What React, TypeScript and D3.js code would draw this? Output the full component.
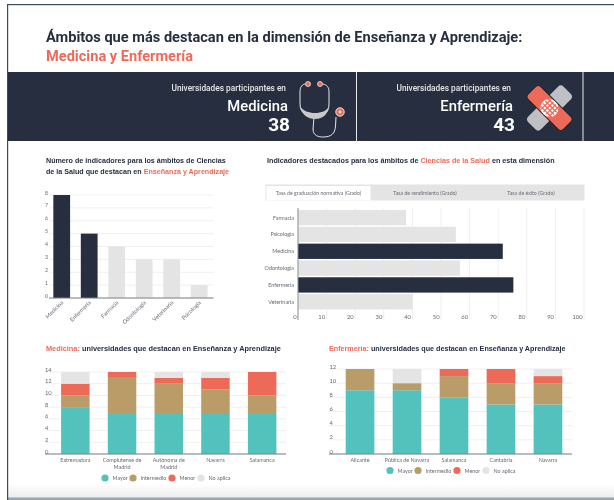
import React from "react";
import * as d3 from "d3";

const DARK = "#262f3f";
const CORAL = "#ee6a58";
const LIGHT = "#e4e4e4";
const TEAL = "#52c2bd";
const TAN = "#b99c68";
const GRID = "#efefef";
const LABEL = "#666b73";
const SANS = "Roboto, sans-serif";
const BODY = "Lato, sans-serif";
const HEAD = "'Liberation Sans', Arial, sans-serif";

const indicatorCats = ["Medicina", "Enfermería", "Farmacia", "Odontología", "Veterinaria", "Psicología"];
const indicatorVals = [8, 5, 4, 3, 3, 1];
const indicatorTicks = [0, 1, 2, 3, 4, 5, 6, 7, 8];

const rateCats = ["Farmacia", "Psicología", "Medicina", "Odontología", "Enfermería", "Veterinaria"];
const rateVals = [37.8, 55.2, 71.6, 56.6, 75.3, 40.1];
const rateTicks = [0, 10, 20, 30, 40, 50, 60, 70, 80, 90, 100];
const tabLabels = ["Tasa de graduación normativa (Grado)", "Tasa de rendimiento (Grado)", "Tasa de éxito (Grado)"];

const levelKeys = ["Mayor", "Intermedio", "Menor", "No aplica"];
const levelColors = [TEAL, TAN, CORAL, LIGHT];

const medUnis = [["Extremadura"], ["Complutense de", "Madrid"], ["Autónoma de", "Madrid"], ["Navarra"], ["Salamanca"]];
const medMayor = [8, 7, 7, 7, 7];
const medIntermedio = [2, 6, 5, 4, 3];
const medMenor = [2, 1, 1, 2, 4];
const medNoAplica = [2, 0, 1, 1, 0];
const medTicks = [0, 2, 4, 6, 8, 10, 12, 14];

const enfUnis = [["Alicante"], ["Pública de Navarra"], ["Salamanca"], ["Cantabria"], ["Navarra"]];
const enfMayor = [9, 9, 8, 7, 7];
const enfIntermedio = [3, 1, 3, 3, 3];
const enfMenor = [0, 0, 1, 2, 1];
const enfNoAplica = [0, 2, 0, 0, 1];
const enfTicks = [0, 2, 4, 6, 8, 10, 12];

function Stacked({ unis, series, ticks, left, right, top, bottom, bandRange, textX, legendXs, legendY }: any) {
  const x = d3.scaleBand<number>().domain(d3.range(unis.length)).range(bandRange).paddingInner(0.39).paddingOuter(0.345);
  const y = d3.scaleLinear().domain([0, ticks[ticks.length - 1]]).range([bottom, top]);
  const rows = unis.map((_: any, i: number) => ({ i, a: series[0][i], b: series[1][i], c: series[2][i], d: series[3][i] }));
  const stack = d3.stack<any>().keys(["a", "b", "c", "d"])(rows);
  const barW = x.bandwidth();
  return (
    <g>
      {ticks.map((t: number) => (
        <g key={t}>
          <line x1={left} x2={right} y1={y(t)} y2={y(t)} stroke={GRID} />
          <text x={textX} y={y(t) - 0.5} fontSize={5.8} fontFamily={BODY} fill={LABEL}>{t}</text>
        </g>
      ))}
      {stack.map((s, k) => s.map((d, i) => (
        <rect key={k + "-" + i} x={x(i)!} width={barW} y={y(d[1])} height={y(d[0]) - y(d[1])} fill={levelColors[k]} />
      )))}
      <line x1={left} x2={right} y1={bottom} y2={bottom} stroke="#7d8288" strokeWidth={1} />
      {unis.map((lines: string[], i: number) => lines.map((l, j) => (
        <text key={i + "-" + j} x={x(i)! + barW / 2} y={bottom + 8 + j * 7} fontSize={5.4} fontFamily={BODY} fill={LABEL} textAnchor="middle">{l}</text>
      )))}
      {levelKeys.map((k, i) => (
        <g key={k}>
          <circle cx={legendXs[i]} cy={legendY} r={3.6} fill={levelColors[i]} />
          <text x={legendXs[i] + 7.5} y={legendY + 2} fontSize={5.4} fontFamily={BODY} fill={LABEL}>{k}</text>
        </g>
      ))}
    </g>
  );
}

export default function App() {
  const barX = d3.scaleBand<string>().domain(indicatorCats).range([49.2, 211.7]).paddingInner(0.39).paddingOuter(0.15);
  const barY = d3.scaleLinear().domain([0, 8]).range([298, 195]);
  const rateX = d3.scaleLinear().domain([0, 100]).range([298, 584]);
  const rateY = d3.scaleBand<string>().domain(rateCats).range([209.3, 310.1]).paddingInner(0.09).paddingOuter(0.04);
  return (
    <svg width={614} height={500} style={{ position: "absolute", left: 0, top: 0, background: "#fff" }}>
      <defs>
        <filter id="soft" x="0" y="0" width="100%" height="100%"><feGaussianBlur stdDeviation="0.35" /></filter>
        <linearGradient id="foot" x1="0" x2="0" y1="0" y2="1">
          <stop offset="0" stopColor="#fff" /><stop offset="1" stopColor="#ececec" />
        </linearGradient>
      </defs>
      <g filter="url(#soft)">
        <rect x={7} y={484} width={607} height={14} fill="url(#foot)" />
        <rect x={7} y={497.5} width={607} height={2.5} fill="#9aa3b2" />
        <rect x={7} y={4} width={607} height={1.2} fill="#3d4a61" />
        <rect x={7} y={4} width={1.2} height={496} fill="#3d4a61" />

        <text x={46} y={42} fontSize={14.6} fontWeight={700} fontFamily={SANS} fill={DARK}>Ámbitos que más destacan en la dimensión de Enseñanza y Aprendizaje:</text>
        <text x={46} y={61} fontSize={14.6} fontWeight={700} fontFamily={SANS} fill={CORAL}>Medicina y Enfermería</text>

        <rect x={8} y={72} width={606} height={69} fill={DARK} />
        <rect x={356} y={72} width={1} height={69} fill="#e8e8e8" />
        <rect x={582.5} y={72} width={1} height={69} fill="#e8e8e8" />

        <text x={286} y={91} textAnchor="end" fontSize={8.3} fontWeight={500} fontFamily={SANS} fill="#e6e6e6">Universidades participantes en</text>
        <text x={288} y={111} textAnchor="end" fontSize={14.8} fontWeight={500} fontFamily={SANS} fill="#fff">Medicina</text>
        <text x={290} y={131} textAnchor="end" fontSize={19} fontWeight={700} fontFamily={SANS} fill="#fff">38</text>
        <text x={511} y={91} textAnchor="end" fontSize={8.3} fontWeight={500} fontFamily={SANS} fill="#e6e6e6">Universidades participantes en</text>
        <text x={513} y={111} textAnchor="end" fontSize={14.8} fontWeight={500} fontFamily={SANS} fill="#fff">Enfermería</text>
        <text x={515} y={131} textAnchor="end" fontSize={19} fontWeight={700} fontFamily={SANS} fill="#fff">43</text>

        {/* stethoscope */}
        <g fill="none" stroke="#e6e6e6" strokeWidth={1}>
          <path d="M306 84 C302 84 300 87 300 92 L300 104 C300 114 308 117 314.5 117 C322 117 329 114 329 104 L329 92 C329 87 327 85 323 84" />
          <path d="M314 117 L313 129 C313 136 319 137 323 137 C331 137 335 134 335.5 126 L336 117" />
        </g>
        <path d="M300 106 C303 111 309 113 315 113 C321 113 327 111 329 106 C328 115 322 119 315 119 C308 119 302 115 300 106Z" fill="#c9c9c9" />
        <circle cx={308} cy={84} r={2.5} fill={CORAL} stroke="#e6e6e6" strokeWidth={0.8} />
        <circle cx={320} cy={84} r={2.5} fill={CORAL} stroke="#e6e6e6" strokeWidth={0.8} />
        <circle cx={340} cy={112} r={4.2} fill={CORAL} stroke="#e6e6e6" strokeWidth={1} />
        <circle cx={340} cy={112} r={1.4} fill="#e6e6e6" />

        {/* bandages */}
        <g transform="translate(549.5 108) rotate(45)">
          <rect x={-9} y={-25} width={18} height={50} rx={4} fill="#bfc0c3" />
        </g>
        <g transform="translate(549.5 108) rotate(-45)">
          <rect x={-9} y={-25} width={18} height={50} rx={4} fill={CORAL} stroke="#1b2230" strokeWidth={1} />
          <rect x={-8.5} y={-9} width={17} height={18} rx={8} fill="#fff" />
          <path d="M-7 -5H7M-7 -1.5H7M-7 2H7M-7 5.5H7M-5 -8V8M-1.5 -8V8M2 -8V8M5.5 -8V8" stroke={CORAL} strokeWidth={1.3} />
        </g>

        {/* indicators bar chart */}
        <text x={46} y={163} fontSize={7.15} fontWeight={700} fontFamily={HEAD} fill={DARK}>Número de indicadores para los ámbitos de Ciencias</text>
        <text x={46} y={174} fontSize={7.15} fontWeight={700} fontFamily={HEAD} fill={DARK}>de la Salud que destacan en <tspan fill={CORAL}>Enseñanza y Aprendizaje</tspan></text>
        {indicatorTicks.map((t) => (
          <g key={t}>
            <line x1={49} x2={213.5} y1={barY(t)} y2={barY(t)} stroke={GRID} />
            <text x={45} y={barY(t) - 0.5} fontSize={5.2} fontFamily={BODY} fill={LABEL}>{t}</text>
          </g>
        ))}
        {indicatorCats.map((c, i) => (
          <rect key={c} x={barX(c)!} width={barX.bandwidth()} y={barY(indicatorVals[i])} height={298 - barY(indicatorVals[i])} fill={i < 2 ? DARK : LIGHT} />
        ))}
        <line x1={49} x2={213.5} y1={298} y2={298} stroke="#7d8288" />
        {indicatorCats.map((c) => (
          <text key={c} transform={`translate(${barX(c)! + barX.bandwidth() / 2 + 2} 303) rotate(-45)`} fontSize={5.6} fontFamily={BODY} fill={LABEL} textAnchor="end">{c}</text>
        ))}

        {/* rates chart */}
        <text x={267} y={163} fontSize={7.2} fontWeight={700} fontFamily={HEAD} fill={DARK}>Indicadores destacados para los ámbitos de <tspan fill={CORAL}>Ciencias de la Salud</tspan> en esta dimensión</text>
        <rect x={265.5} y={184.5} width={319} height={16} fill={LIGHT} />
        <rect x={266.5} y={186} width={104} height={14.5} fill="#fff" />
        <text x={318.5} y={194.5} textAnchor="middle" fontSize={5.2} fontFamily={BODY} fill={LABEL}>{tabLabels[0]}</text>
        <text x={425} y={194.5} textAnchor="middle" fontSize={5.2} fontFamily={BODY} fill={LABEL}>{tabLabels[1]}</text>
        <text x={531} y={194.5} textAnchor="middle" fontSize={5.2} fontFamily={BODY} fill={LABEL}>{tabLabels[2]}</text>
        {rateTicks.map((t) => (
          <g key={t}>
            <line x1={rateX(t)} x2={rateX(t)} y1={208} y2={320} stroke={GRID} />
            <text x={rateX(t) - 1.5} y={319} textAnchor="end" fontSize={5.8} fontFamily={BODY} fill={LABEL}>{t}</text>
          </g>
        ))}
        {rateCats.map((c, i) => {
          const hi = c === "Medicina" || c === "Enfermería";
          return (
            <g key={c}>
              <rect x={rateX(0)} width={rateX(rateVals[i]) - rateX(0)} y={rateY(c)!} height={rateY.bandwidth()} fill={hi ? DARK : LIGHT} />
              <text x={294} y={rateY(c)! + rateY.bandwidth() / 2 + 2} textAnchor="end" fontSize={5.4} fontFamily={BODY} fill={LABEL}>{c}</text>
            </g>
          );
        })}
        <line x1={298} x2={298} y1={208} y2={320} stroke="#8a8f94" strokeWidth={1} />

        {/* stacked */}
        <text x={46} y={351} fontSize={7.35} fontWeight={700} fontFamily={HEAD} fill={DARK}><tspan fill={CORAL}>Medicina:</tspan> universidades que destacan en Enseñanza y Aprendizaje</text>
        <Stacked unis={medUnis} series={[medMayor, medIntermedio, medMenor, medNoAplica]} ticks={medTicks}
          left={45} right={286} top={372} bottom={454} bandRange={[45, 292.5]} textX={45}
          legendXs={[105, 133, 172, 201]} legendY={478} />
        <text x={329} y={351} fontSize={7.2} fontWeight={700} fontFamily={HEAD} fill={DARK}><tspan fill={CORAL}>Enfermería:</tspan> universidades que destacan en Enseñanza y Aprendizaje</text>
        <Stacked unis={enfUnis} series={[enfMayor, enfIntermedio, enfMenor, enfNoAplica]} ticks={enfTicks}
          left={329} right={572} top={369} bottom={454} bandRange={[329.5, 578.5]} textX={329.5}
          legendXs={[390, 418, 457, 486]} legendY={470.5} />
      </g>
    </svg>
  );
}
